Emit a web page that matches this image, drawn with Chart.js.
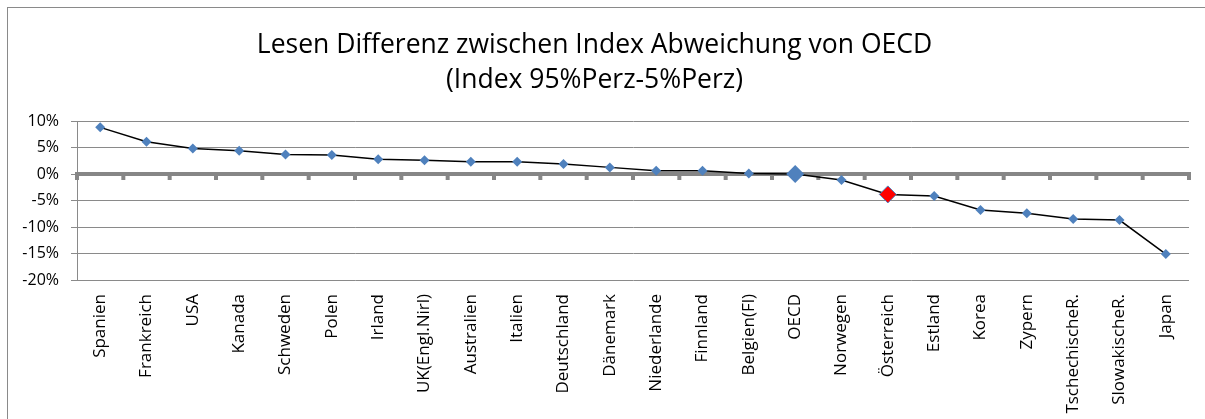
<!DOCTYPE html>
<html>
<head>
<meta charset="utf-8">
<script src="https://cdn.jsdelivr.net/npm/chart.js@4"></script>
<style>
  html, body { margin: 0; padding: 0; background: #fff; }
  canvas { display: block; }
</style>
</head>
<body>
<canvas id="chart" width="1205" height="419"></canvas>
<script>
const countries = [
  'Spanien', 'Frankreich', 'USA', 'Kanada', 'Schweden', 'Polen', 'Irland',
  'UK(Engl.Nirl)', 'Australien', 'Italien', 'Deutschland', 'Dänemark',
  'Niederlande', 'Finnland', 'Belgien(Fl)', 'OECD', 'Norwegen', 'Österreich',
  'Estland', 'Korea', 'Zypern', 'TschechischeR.', 'SlowakischeR.', 'Japan'
];
const deviation = [
  8.8, 6.1, 4.8, 4.4, 3.7, 3.6, 2.8, 2.6, 2.3, 2.3, 1.9, 1.25,
  0.6, 0.6, 0.1, 0, -1.15, -3.85, -4.15, -6.8, -7.4, -8.5, -8.7, -15.1
];
const yTicks = [10, 5, 0, -5, -10, -15, -20];
const titleLines = ['Lesen Differenz zwischen Index Abweichung von OECD', '(Index 95%Perz-5%Perz)'];

const blue = '#4f81bd';
const axisGrey = '#8a8a8a';
const font = "'Open Sans', 'Noto Sans', sans-serif";

// outer frame of the chart object (right/bottom edges fall outside the picture)
const frame = {
  id: 'frame',
  beforeDraw(chart) {
    const c = chart.ctx;
    c.save();
    c.strokeStyle = axisGrey;
    c.lineWidth = 1;
    c.strokeRect(7.5, 7.5, chart.width + 10, chart.height + 10);
    c.restore();
  }
};

// thick zero line with category tick marks hanging below it
const zeroLine = {
  id: 'zeroLine',
  beforeDatasetsDraw(chart) {
    const x = chart.scales.x, y = chart.scales.y;
    const y0 = y.getPixelForValue(0);
    const c = chart.ctx;
    const step = (x.right - x.left) / countries.length;
    c.save();
    c.fillStyle = '#868686';
    c.fillRect(x.left - 2, y0 - 2, x.right - x.left + 4, 4);
    for (let k = 0; k <= countries.length; k++) {
      const px = x.left + k * step;
      c.fillRect(px - 2, y0, 4, 6);
    }
    c.restore();
  }
};

new Chart(document.getElementById('chart'), {
  type: 'line',
  data: {
    labels: countries,
    datasets: [{
      data: deviation,
      borderColor: '#000',
      borderWidth: 1.5,
      tension: 0,
      pointStyle: 'rectRot',
      pointRadius: (ctx) => {
        const name = countries[ctx.dataIndex];
        return name === 'OECD' ? 9 : name === 'Österreich' ? 8.5 : 5;
      },
      pointBackgroundColor: (ctx) => countries[ctx.dataIndex] === 'Österreich' ? '#ff0000' : blue,
      pointBorderColor: blue,
      pointBorderWidth: (ctx) => countries[ctx.dataIndex] === 'Österreich' ? 1 : 0,
    }],
  },
  options: {
    responsive: false,
    animation: false,
    devicePixelRatio: 1,
    layout: { padding: { left: 0, right: 16, top: 0, bottom: 0 } },
    plugins: {
      legend: false,
      tooltip: { enabled: false },
      title: {
        display: true,
        text: titleLines,
        color: '#000',
        font: { family: font, size: 26.5, weight: 'normal', lineHeight: 35 / 26.5 },
        padding: { top: 27.5, bottom: 23.5 },
      },
    },
    scales: {
      x: {
        type: 'category',
        offset: true,
        grid: { display: false },
        border: { display: false },
        ticks: {
          color: '#000',
          font: { family: font, size: 17 },
          minRotation: 90,
          maxRotation: 90,
          autoSkip: false,
          padding: 6,
        },
        afterFit(scale) { scale.height = 139; },
      },
      y: {
        type: 'linear',
        min: -20,
        max: 10,
        afterBuildTicks(scale) { scale.ticks = yTicks.map((v) => ({ value: v })); },
        grid: { color: axisGrey, lineWidth: 1, tickLength: 6 },
        border: { color: axisGrey, width: 1 },
        ticks: {
          color: '#000',
          font: { family: font, size: 16 },
          padding: 12,
          callback: (v) => v + '%',
        },
        afterFit(scale) { scale.width = 77; },
      },
    },
  },
  plugins: [frame, zeroLine],
});
</script>
</body>
</html>
